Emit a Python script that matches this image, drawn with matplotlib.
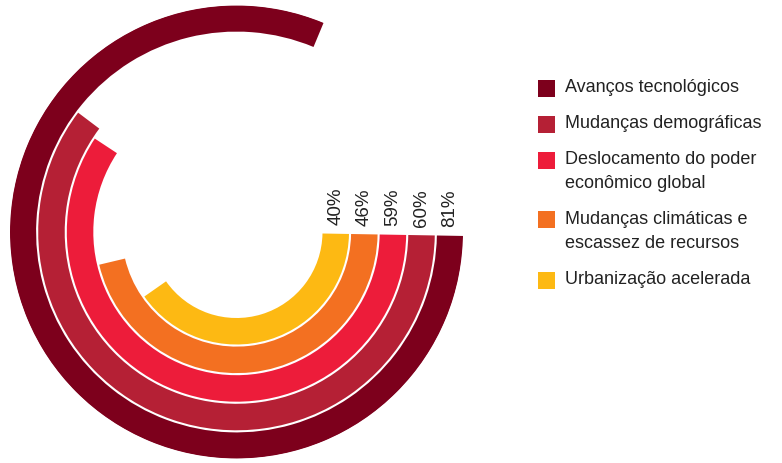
import numpy as np
import matplotlib
matplotlib.use("Agg")
import matplotlib.pyplot as plt
from matplotlib.patches import Rectangle

categories = ["Avanços tecnológicos", "Mudanças demográficas",
              "Deslocamento do poder\neconômico global",
              "Mudanças climáticas e\nescassez de recursos",
              "Urbanização acelerada"]
values = [81, 60, 59, 46, 40]
labels = ["81%", "60%", "59%", "46%", "40%"]
colors = ["#7D001C", "#B52035", "#ED1C3A", "#F37021", "#FDB913"]

plt.rcParams['font.family'] = ['Liberation Sans', 'DejaVu Sans']

fig = plt.figure(figsize=(7.82, 4.63), dpi=100)
W, H = 782, 463
cx, cy_top, R = 236.5, 232, 226.5
cy = H - cy_top
ax = fig.add_axes([(cx - R) / W, (cy - R) / H, 2 * R / W, 2 * R / H], projection='polar')
ax.set_theta_zero_location('E', offset=-1.0)
ax.set_theta_direction(-1)
ax.set_rlim(0, R)
ax.axis('off')

inner0, step, width = 86, 28.6, 26.5
n = len(values)
for i, (v, c, lab) in enumerate(zip(values, colors, labels)):
    ring = n - 1 - i  # outermost first
    bottom = inner0 + ring * step
    theta = v / 100 * 2 * np.pi
    ax.bar(theta / 2, width, width=theta, bottom=bottom, color=c,
           edgecolor='none', align='center')
    ax.annotate(lab, xy=(0, bottom + width / 2), xytext=(0, 6),
                textcoords='offset points', rotation=90, ha='center', va='bottom',
                fontsize=13.5, color='#222222', annotation_clip=False)

# legend (drawn manually for exact spacing)
y = 88
for c, name in zip(colors, categories):
    sq = 17
    fig.patches.append(Rectangle((538 / W, (H - y - sq / 2) / H), sq / W, sq / H,
                                 transform=fig.transFigure, facecolor=c,
                                 edgecolor='none'))
    fig.text(565 / W, (H - y) / H, name.split("\n")[0], fontsize=13,
             color='#222222', va='center', ha='left')
    lines = name.split("\n")
    for k, ln in enumerate(lines[1:], start=1):
        fig.text(565 / W, (H - y - 24 * k) / H, ln, fontsize=13,
                 color='#222222', va='center', ha='left')
    y += 36 + 24 * (len(lines) - 1)

fig.savefig("out.png", dpi=100)
